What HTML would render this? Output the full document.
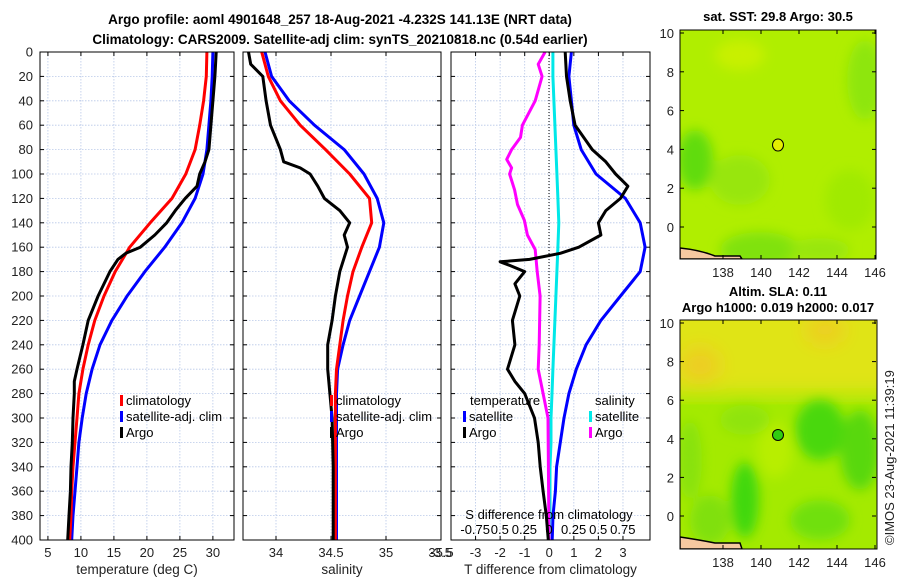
<!DOCTYPE html>
<html><head><meta charset="utf-8"><style>
html,body{margin:0;padding:0;background:#fff;}
svg{display:block;font-family:"Liberation Sans","DejaVu Sans",sans-serif;}
</style></head><body>
<svg id="c" width="900" height="580" viewBox="0 0 900 580" xmlns="http://www.w3.org/2000/svg">
<defs>
<filter id="blur6"><feGaussianBlur stdDeviation="6"/></filter>
<filter id="blur10"><feGaussianBlur stdDeviation="10"/></filter>
<clipPath id="clipTop"><rect x="680" y="30" width="196" height="229"/></clipPath>
<clipPath id="clipBot"><rect x="680" y="320" width="197" height="229"/></clipPath>
<clipPath id="cp1"><rect x="40" y="52" width="194" height="488"/></clipPath>
<clipPath id="cp2"><rect x="243" y="52" width="198" height="488"/></clipPath>
<clipPath id="cp3"><rect x="451" y="52" width="199" height="488"/></clipPath>
</defs>
<text x="340" y="24" text-anchor="middle" font-size="13.5" font-weight="bold">Argo profile: aoml 4901648_257 18-Aug-2021 -4.232S 141.13E (NRT data)</text>
<text x="340" y="44" text-anchor="middle" font-size="13.5" font-weight="bold">Climatology: CARS2009. Satellite-adj clim: synTS_20210818.nc (0.54d earlier)</text>

<g id="maps">
<g clip-path="url(#clipTop)">
<rect x="680" y="30" width="196" height="229" fill="#b0ee00"/>
<g filter="url(#blur6)">
<ellipse cx="695" cy="160" rx="18" ry="30" fill="#60dc10"/>
<ellipse cx="740" cy="180" rx="30" ry="25" fill="#98e60a"/>
<ellipse cx="865" cy="80" rx="18" ry="40" fill="#8ee608"/>
<ellipse cx="760" cy="250" rx="40" ry="18" fill="#80e20a"/>
<ellipse cx="850" cy="200" rx="25" ry="30" fill="#a0ea05"/>
<ellipse cx="740" cy="55" rx="25" ry="15" fill="#c8f000"/>
<ellipse cx="820" cy="250" rx="30" ry="12" fill="#98e608"/>
</g>
<path d="M680,248 Q700,250 715,256 L740,256 L742,259 L680,259 Z" fill="#f5c8a0" stroke="#000" stroke-width="1.5"/>
</g>
<rect x="680" y="30" width="196" height="229" fill="none" stroke="#000" stroke-width="1"/>
<ellipse cx="778" cy="145" rx="5.5" ry="6" fill="#e4ee00" stroke="#000" stroke-width="1"/>
<text x="778" y="21" text-anchor="middle" font-size="13" font-weight="bold">sat. SST: 29.8 Argo: 30.5</text>

<g clip-path="url(#clipBot)">
<rect x="680" y="320" width="197" height="229" fill="#a4ea00"/>
<g filter="url(#blur10)">
<rect x="660" y="300" width="240" height="95" fill="#e0e418"/>
<ellipse cx="700" cy="365" rx="20" ry="18" fill="#eecb20"/>
<ellipse cx="825" cy="330" rx="20" ry="14" fill="#eecb20"/>
</g>
<g filter="url(#blur6)">
<ellipse cx="820" cy="430" rx="25" ry="30" fill="#48d808"/>
<ellipse cx="860" cy="450" rx="20" ry="40" fill="#58d808"/>
<ellipse cx="745" cy="500" rx="14" ry="38" fill="#40d808"/>
<ellipse cx="820" cy="520" rx="30" ry="20" fill="#70e008"/>
<ellipse cx="710" cy="520" rx="20" ry="25" fill="#80e008"/>
<ellipse cx="775" cy="450" rx="18" ry="28" fill="#b8ee00"/>
<ellipse cx="690" cy="460" rx="12" ry="40" fill="#88e208"/>
<ellipse cx="745" cy="420" rx="25" ry="15" fill="#90e408"/>
</g>
<path d="M680,537 Q700,540 715,543 L740,543 L742,549 L680,549 Z" fill="#f5c8a0" stroke="#000" stroke-width="1.5"/>
</g>
<rect x="680" y="320" width="197" height="229" fill="none" stroke="#000" stroke-width="1"/>
<circle cx="778" cy="435" r="5.5" fill="#30cc10" stroke="#000" stroke-width="1"/>
<text x="778" y="296" text-anchor="middle" font-size="13" font-weight="bold">Altim. SLA: 0.11</text>
<text x="778" y="312" text-anchor="middle" font-size="13" font-weight="bold">Argo h1000: 0.019 h2000: 0.017</text>
<text x="0" y="0" font-size="13" fill="#222" transform="translate(894,545) rotate(-90)">©IMOS 23-Aug-2021 11:39:19</text>
</g>
<g id="plots"></g>
</svg>
<script>
// ---- data (depth in m) ----
const depthTicks = [0,20,40,60,80,100,120,140,160,180,200,220,240,260,280,300,320,340,360,380,400];
const climDepth = [0,20,40,60,80,100,120,140,160,180,200,220,240,260,280,300,320,340,360,380,400];
const tempClim = [29.1,29.0,28.6,28.0,27.3,25.9,23.8,20.5,17.4,15.2,13.5,12.1,11.1,10.3,9.7,9.4,9.1,8.8,8.6,8.5,8.3];
const tempSat = [30.0,29.9,29.7,29.4,29.1,28.5,27.3,25.3,22.7,19.7,17.0,14.7,12.9,11.7,10.8,10.2,9.7,9.4,9.1,8.8,8.6];
const argoDepth = [0,20,40,60,80,90,100,110,120,130,140,150,160,165,170,180,200,220,240,260,270,280,300,320,340,360,380,400];
const tempArgo = [30.5,30.3,30.0,29.7,29.4,28.8,28.0,27.6,25.8,24.3,23.0,21.2,19.0,16.8,15.6,14.4,12.6,11.1,10.3,9.4,9.0,9.0,8.8,8.7,8.5,8.4,8.2,8.0];
const salClim = [33.87,33.93,34.04,34.22,34.45,34.67,34.85,34.87,34.78,34.70,34.65,34.61,34.58,34.55,34.54,34.54,34.54,34.54,34.54,34.54,34.54];
const salSat = [33.90,33.96,34.12,34.35,34.62,34.80,34.92,34.98,34.94,34.85,34.76,34.67,34.61,34.56,34.55,34.55,34.55,34.55,34.55,34.55,34.55];
const salArgoDepth = [0,10,20,40,60,80,90,95,100,110,120,130,140,150,160,180,200,220,240,260,280,300,340,400];
const salArgo = [33.75,33.77,33.88,33.91,33.95,34.04,34.07,34.22,34.31,34.38,34.44,34.58,34.67,34.62,34.65,34.58,34.54,34.51,34.47,34.47,34.49,34.51,34.52,34.52];
const tDiffSat = [0.9,0.8,0.9,1.0,1.3,1.9,3.1,3.7,3.9,3.7,2.9,2.1,1.5,1.1,0.8,0.6,0.45,0.3,0.25,0.15,0.12];
const tDiffArgoDepth = [0,20,40,60,80,90,100,110,120,130,140,150,160,165,170,172,175,180,190,200,220,240,260,270,280,300,320,340,360,380,400];
const tDiffArgo = [0.65,0.7,0.85,1.05,1.75,2.3,2.7,3.2,2.9,2.3,2.0,2.1,1.2,0.45,-0.8,-2.0,-1.6,-1.0,-1.4,-1.2,-1.5,-1.4,-1.7,-1.4,-1.0,-0.6,-0.45,-0.37,-0.25,-0.12,-0.04];
const sDiffSat = [0.04,0.04,0.05,0.06,0.07,0.08,0.09,0.1,0.09,0.08,0.07,0.06,0.05,0.04,0.03,0.02,0.02,0.01,0.01,0.01,0.0];
const sDiffArgoDepth = [0,10,20,40,60,70,80,88,95,100,113,125,138,150,162,180,200,240,260,280,300,400];
const sDiffArgo = [-0.04,-0.11,-0.07,-0.14,-0.27,-0.29,-0.38,-0.43,-0.38,-0.40,-0.35,-0.32,-0.25,-0.22,-0.14,-0.12,-0.09,-0.10,-0.11,-0.06,-0.01,0.0];
const tempTicks = [5,10,15,20,25,30];
const salTicks = [34,34.5,35,35.5];
const tdTicks = [-3,-2,-1,0,1,2,3];
const sdTickLabels = ["-0.75","0.5","0.25","0","0.25","0.5","0.75"];
const sdTicks = [-0.75,-0.5,-0.25,0,0.25,0.5,0.75];

const NS='http://www.w3.org/2000/svg';
const G=document.getElementById('plots');
function el(t,a,p){const e=document.createElementNS(NS,t);for(const k in a)e.setAttribute(k,a[k]);(p||G).appendChild(e);return e;}
const Y0=52,Y1=540;
const yS=d=>Y0+(d/400)*(Y1-Y0);
function xScale(x0,x1,v0,v1){return v=>x0+(v-v0)/(v1-v0)*(x1-x0);}
const P=[
 {x0:40,x1:234,sx:xScale(40,234,3.8,33.2),ticks:tempTicks,label:'temperature (deg C)',clip:'cp1'},
 {x0:243,x1:441,sx:xScale(243,441,33.7,35.5),ticks:salTicks,label:'salinity',clip:'cp2'},
 {x0:451,x1:650,sx:xScale(451,650,-4.0,4.1),ticks:tdTicks,label:'T difference from climatology',clip:'cp3'}
];
const sdx=s=>549+s*98.4;
P.forEach((p,i)=>{
  const g=el('g',{});
  
  
  depthTicks.forEach(d=>{
    el('line',{x1:p.x0,x2:p.x1,y1:yS(d),y2:yS(d),stroke:'#b8c8e8','stroke-width':0.8,'stroke-dasharray':'1.5,1.5'},g);
    el('line',{x1:p.x0,x2:p.x0+4,y1:yS(d),y2:yS(d),stroke:'#000','stroke-width':1},g);
    el('line',{x1:p.x1,x2:p.x1-4,y1:yS(d),y2:yS(d),stroke:'#000','stroke-width':1},g);
  });
  p.ticks.forEach(t=>{
    const x=p.sx(t);
    el('line',{x1:x,x2:x,y1:Y0,y2:Y1,stroke:'#b8c8e8','stroke-width':0.8,'stroke-dasharray':'1.5,1.5'},g);
    el('line',{x1:x,x2:x,y1:Y1,y2:Y1-4,stroke:'#000'},g);
    el('line',{x1:x,x2:x,y1:Y0,y2:Y0+4,stroke:'#000'},g);
    const tx=el('text',{x:x,y:557,'text-anchor':'middle','font-size':13,fill:'#222'},g);
    tx.textContent=String(t);
    
    
  });
  const lb=el('text',{x:(p.x0+p.x1)/2,y:574,'text-anchor':'middle','font-size':13.5,fill:'#222'},g);
  lb.textContent=p.label;
  
  
});
depthTicks.forEach(d=>{
  const t=el('text',{x:33,y:yS(d)+4.5,'text-anchor':'end','font-size':13,fill:'#222'});
  t.textContent=String(d);
  
  
});
const lm=el('text',{x:452,y:557,'text-anchor':'end','font-size':13,fill:'#222'});
lm.textContent='-3.5';


el('line',{x1:549,x2:549,y1:Y0,y2:Y1,stroke:'#000','stroke-width':1,'stroke-dasharray':'1,2'});

function line(xs,ds,sx,color,name,clip,w){
  const pts=xs.map((v,i)=>sx(v).toFixed(1)+','+yS(ds[i]).toFixed(1)).join(' ');
  const e=el('polyline',{points:pts,fill:'none',stroke:color,'stroke-width':w||3,'stroke-linejoin':'round','clip-path':'url(#'+clip+')'});
  
  
}
line(tempSat,climDepth,P[0].sx,'#0000ff','temp-satellite-clim-line','cp1');
line(tempClim,climDepth,P[0].sx,'#ff0000','temp-climatology-line','cp1');
line(tempArgo,argoDepth,P[0].sx,'#000','temp-argo-line','cp1');
line(salSat,climDepth,P[1].sx,'#0000ff','salinity-satellite-clim-line','cp2');
line(salClim,climDepth,P[1].sx,'#ff0000','salinity-climatology-line','cp2');
line(salArgo,salArgoDepth,P[1].sx,'#000','salinity-argo-line','cp2');
line(tDiffSat,climDepth,P[2].sx,'#0000ff','t-diff-satellite-line','cp3');
line(sDiffSat,climDepth,sdx,'#00e8e8','s-diff-satellite-line','cp3');
line(sDiffArgo,sDiffArgoDepth,sdx,'#ff00ff','s-diff-argo-line','cp3');
line(tDiffArgo,tDiffArgoDepth,P[2].sx,'#000','t-diff-argo-line','cp3');

P.forEach((p,i)=>{
  const r=el('rect',{x:p.x0,y:Y0,width:p.x1-p.x0,height:Y1-Y0,fill:'none',stroke:'#000','stroke-width':1});
  
  
});

function leg(x,y,color,text,name){
  const g=el('g',{});
  
  
  el('rect',{x:x,y:y-10,width:3,height:11,fill:color},g);
  const t=el('text',{x:x+6,y:y,'font-size':13,fill:'#000'},g);
  t.textContent=text;
}
leg(120,405,'#ff0000','climatology','legend-entry-climatology');
leg(120,421,'#0000ff','satellite-adj. clim','legend-entry-satellite');
leg(120,437,'#000','Argo','legend-entry-argo');
leg(330,405,'#ff0000','climatology','legend-entry-climatology');
leg(330,421,'#0000ff','satellite-adj. clim','legend-entry-satellite');
leg(330,437,'#000','Argo','legend-entry-argo');
const tt=el('text',{x:470,y:405,'font-size':13});tt.textContent='temperature';


const st=el('text',{x:595,y:405,'font-size':13});st.textContent='salinity';


leg(463,421,'#0000ff','satellite','legend-entry-t-satellite');
leg(463,437,'#000','Argo','legend-entry-t-argo');
leg(589,421,'#00e8e8','satellite','legend-entry-s-satellite');
leg(589,437,'#ff00ff','Argo','legend-entry-s-argo');
const sl=el('text',{x:549,y:519,'text-anchor':'middle','font-size':13});sl.textContent='S difference from climatology';


sdTicks.forEach((s,i)=>{
  const t=el('text',{x:sdx(s),y:534,'text-anchor':'middle','font-size':13});
  t.textContent=sdTickLabels[i];
  
  
});

const mapLon=[138,140,142,144,146];
const mapLat=[0,2,4,6,8,10];
const lonX=l=>723+(l-138)*19;
[[33,227,259,30],[323,516,549,320]].forEach(([y10,y0,yb,yt],m)=>{
  const latY=v=>y0+(y10-y0)*v/10;
  mapLat.forEach(v=>{
    const y=latY(v);
    el('line',{x1:680,x2:684,y1:y,y2:y,stroke:'#000'});
    el('line',{x1:876,x2:872,y1:y,y2:y,stroke:'#000'});
    const t=el('text',{x:674,y:y+5,'text-anchor':'end','font-size':13,fill:'#222'});
    t.textContent=String(v);
    
    
  });
  mapLon.forEach(v=>{
    const x=lonX(v);
    el('line',{x1:x,x2:x,y1:yb,y2:yb-4,stroke:'#000'});
    el('line',{x1:x,x2:x,y1:yt,y2:yt+4,stroke:'#000'});
    const t=el('text',{x:x,y:yb+18,'text-anchor':'middle','font-size':13,fill:'#222'});
    t.textContent=String(v);
    
    
  });
});
</script>
</body></html>
